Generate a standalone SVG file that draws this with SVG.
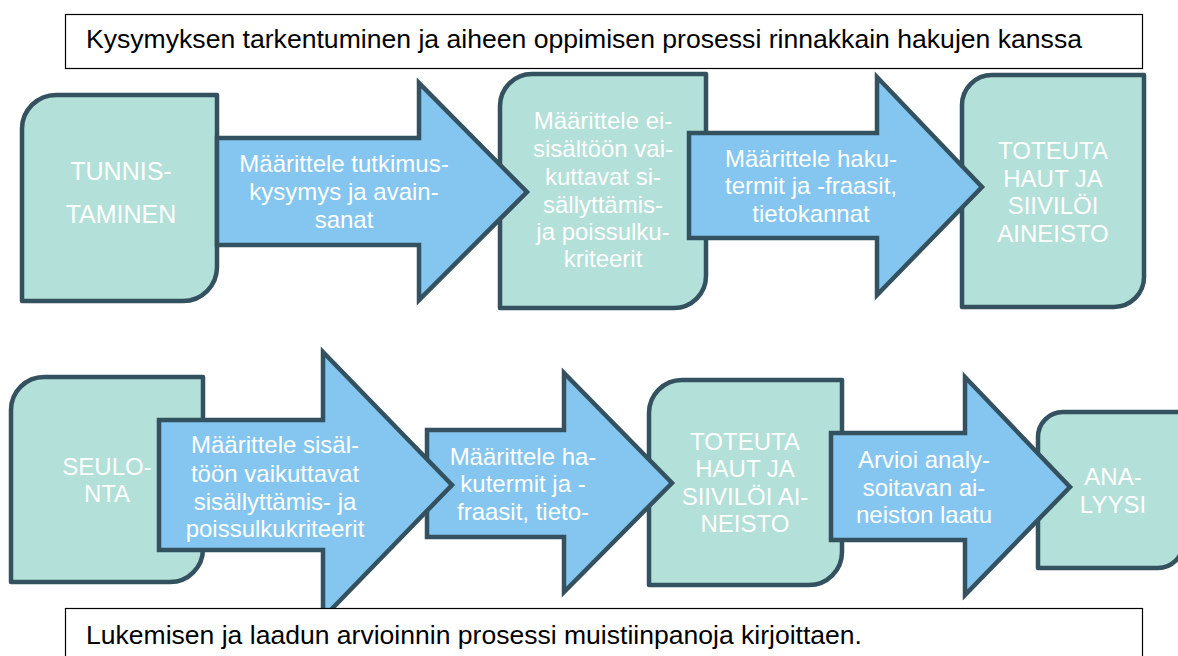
<svg xmlns="http://www.w3.org/2000/svg" width="1178" height="656" viewBox="0 0 1178 656">
  <style>
    .box { fill: #b3e0d8; stroke: #33515f; stroke-width: 4.5; stroke-linejoin: round; }
    .arrow { fill: #84c6ef; stroke: #33515f; stroke-width: 4.5; stroke-linejoin: miter; }
    .label { fill: #ffffff; stroke: #000000; stroke-width: 1.2; }
    .t { font-family: "Liberation Sans", Arial, sans-serif; font-size: 24px; fill: #ffffff; text-anchor: middle; }
    .big { font-size: 25px; }
    .cap { font-family: "Liberation Sans", Arial, sans-serif; font-size: 26px; fill: #000000; }
  </style>

  <!-- header band -->
  <g id="header">
    <rect class="label" x="65.5" y="14.5" width="1077" height="54"/>
    <text class="cap" x="86" y="48" textLength="996" lengthAdjust="spacingAndGlyphs">Kysymyksen tarkentuminen ja aiheen oppimisen prosessi rinnakkain hakujen kanssa</text>
  </g>

  <!-- upper row: stage boxes -->
  <g id="tunnistaminen">
    <path class="box" d="M22,129 A34,34 0 0 1 56,95 H217 V267 A34,34 0 0 1 183,301 H22 Z"/>
    <text class="t big" x="121" y="180">TUNNIS-</text>
    <text class="t big" x="121" y="223">TAMINEN</text>
  </g>
  <g id="kriteerit">
    <path class="box" d="M500,106 A32,32 0 0 1 532,74 H706 V276 A32,32 0 0 1 674,308 H500 Z"/>
    <text class="t" x="603" y="129">Määrittele ei-</text>
    <text class="t" x="603" y="157">sisältöön vai-</text>
    <text class="t" x="603" y="185">kuttavat si-</text>
    <text class="t" x="603" y="213">sällyttämis-</text>
    <text class="t" x="603" y="240">ja poissulku-</text>
    <text class="t" x="603" y="267">kriteerit</text>
  </g>
  <g id="toteuta1">
    <path class="box" d="M962,105 A30,30 0 0 1 992,75 H1144 V277 A30,30 0 0 1 1114,307 H962 Z"/>
    <text class="t" x="1053" y="159">TOTEUTA</text>
    <text class="t" x="1053" y="187">HAUT JA</text>
    <text class="t" x="1053" y="214">SIIVILÖI</text>
    <text class="t" x="1053" y="242">AINEISTO</text>
  </g>

  <!-- lower row: stage boxes -->
  <g id="seulonta">
    <path class="box" d="M11,410 A33,33 0 0 1 44,377 H203 V549 A33,33 0 0 1 170,582 H11 Z"/>
    <text class="t" x="107" y="475">SEULO-</text>
    <text class="t" x="107" y="502">NTA</text>
  </g>
  <g id="toteuta2">
    <path class="box" d="M649,413 A33,33 0 0 1 682,380 H842 V552 A33,33 0 0 1 809,585 H649 Z"/>
    <text class="t" x="745" y="450">TOTEUTA</text>
    <text class="t" x="745" y="477">HAUT JA</text>
    <text class="t" x="745" y="505">SIIVILÖI AI-</text>
    <text class="t" x="745" y="532">NEISTO</text>
  </g>
  <g id="analyysi">
    <path class="box" d="M1038,437 A25,25 0 0 1 1063,412 H1183 V543 A25,25 0 0 1 1158,568 H1038 Z"/>
    <text class="t" x="1113" y="485">ANA-</text>
    <text class="t" x="1113" y="513">LYYSI</text>
  </g>

  <!-- block arrows between stages -->
  <g id="connectors">
    <g id="arrow-kysymys">
      <path class="arrow" d="M217,138 H419 V83 L527,192 L419,300 V245 H217 Z"/>
      <text class="t" x="344" y="172">Määrittele tutkimus-</text>
      <text class="t" x="344" y="200">kysymys ja avain-</text>
      <text class="t" x="344" y="228">sanat</text>
    </g>
    <g id="arrow-hakutermit">
      <path class="arrow" d="M689,133 H877 V77 L982,187 L877,295 V238 H689 Z"/>
      <text class="t" x="811" y="167">Määrittele haku-</text>
      <text class="t" x="811" y="194">termit ja -fraasit,</text>
      <text class="t" x="811" y="222">tietokannat</text>
    </g>
    <g id="arrow-hakutermit2">
      <path class="arrow" d="M427,430 H564 V373 L672,483 L564,592 V537 H427 Z"/>
      <text class="t" x="523" y="465">Määrittele ha-</text>
      <text class="t" x="523" y="492">kutermit ja -</text>
      <text class="t" x="523" y="520">fraasit, tieto-</text>
    </g>
    <g id="arrow-sisalto">
      <path class="arrow" d="M159,420 H323 V352 L452,485 L323,618 V550 H159 Z"/>
      <text class="t" x="275" y="453">Määrittele sisäl-</text>
      <text class="t" x="275" y="482">töön vaikuttavat</text>
      <text class="t" x="275" y="510">sisällyttämis- ja</text>
      <text class="t" x="275" y="537">poissulkukriteerit</text>
    </g>
    <g id="arrow-laatu">
      <path class="arrow" d="M831,433 H965 V377 L1070,487 L965,595 V540 H831 Z"/>
      <text class="t" x="924" y="468">Arvioi analy-</text>
      <text class="t" x="924" y="496">soitavan ai-</text>
      <text class="t" x="924" y="523">neiston laatu</text>
    </g>
  </g>

  <!-- footer band -->
  <g id="footer">
    <rect class="label" x="65.5" y="608.5" width="1077" height="60"/>
    <text class="cap" x="86" y="644" textLength="776" lengthAdjust="spacingAndGlyphs">Lukemisen ja laadun arvioinnin prosessi muistiinpanoja kirjoittaen.</text>
  </g>
</svg>
